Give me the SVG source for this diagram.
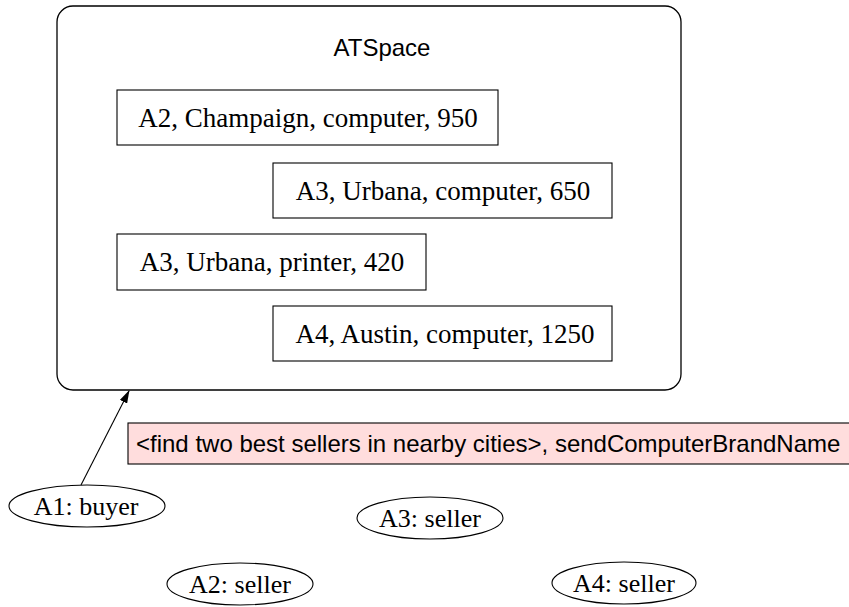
<svg xmlns="http://www.w3.org/2000/svg" width="849" height="607" viewBox="0 0 849 607">
  <style>
    .frame { fill: #ffffff; stroke: #000000; stroke-width: 1.3; }
    .tuple { fill: #ffffff; stroke: #000000; stroke-width: 1.1; }
    .agent { fill: #ffffff; stroke: #000000; stroke-width: 1.1; }
    .note { fill: #ffdddd; stroke: #000000; stroke-width: 1.1; }
    .serif { font-family: "Liberation Serif", "Times New Roman", serif; fill: #000000; }
    .tuple-text { font-size: 27px; }
    .agent-text { font-size: 26px; }
    .sans { font-family: "Liberation Sans", Arial, sans-serif; fill: #000000; }
    .link { fill: none; stroke: #000000; stroke-width: 1.1; }
  </style>
  <defs>
    <marker id="arrowhead" markerWidth="13" markerHeight="8" refX="12" refY="4" orient="auto" markerUnits="userSpaceOnUse">
      <path d="M0,0 L13,4 L0,8 Z" fill="#000000"/>
    </marker>
  </defs>
  <rect width="849" height="607" fill="#ffffff"/>

  <!-- tuple space container -->
  <g id="atspace">
    <rect class="frame" x="57" y="6" width="624" height="384" rx="16" ry="16"/>
    <text class="sans" x="382" y="56" font-size="24" text-anchor="middle">ATSpace</text>
  </g>

  <!-- stored tuples -->
  <g id="tuple-a2-champaign">
    <rect class="tuple" x="117" y="90" width="381" height="55"/>
    <text class="serif tuple-text" x="308" y="127" text-anchor="middle">A2, Champaign, computer, 950</text>
  </g>
  <g id="tuple-a3-urbana-computer">
    <rect class="tuple" x="273" y="163" width="339" height="55"/>
    <text class="serif tuple-text" x="443" y="200" text-anchor="middle">A3, Urbana, computer, 650</text>
  </g>
  <g id="tuple-a3-urbana-printer">
    <rect class="tuple" x="117" y="234" width="309" height="56"/>
    <text class="serif tuple-text" x="272" y="271" text-anchor="middle">A3, Urbana, printer, 420</text>
  </g>
  <g id="tuple-a4-austin">
    <rect class="tuple" x="273" y="306" width="339" height="55"/>
    <text class="serif tuple-text" x="445" y="343" text-anchor="middle">A4, Austin, computer, 1250</text>
  </g>

  <!-- request note -->
  <g id="request">
    <rect class="note" x="128" y="423" width="722" height="41"/>
    <text class="sans" x="136" y="452" font-size="24">&lt;find two best sellers in nearby cities&gt;, sendComputerBrandName</text>
  </g>

  <!-- agents -->
  <g id="a1-buyer">
    <ellipse class="agent" cx="87" cy="506" rx="78" ry="21"/>
    <text class="serif agent-text" x="86" y="515" text-anchor="middle">A1: buyer</text>
  </g>
  <g id="a3-seller">
    <ellipse class="agent" cx="430" cy="518" rx="73" ry="21"/>
    <text class="serif agent-text" x="430" y="527" text-anchor="middle">A3: seller</text>
  </g>
  <g id="a2-seller">
    <ellipse class="agent" cx="240" cy="584" rx="73" ry="21"/>
    <text class="serif agent-text" x="240" y="593" text-anchor="middle">A2: seller</text>
  </g>
  <g id="a4-seller">
    <ellipse class="agent" cx="624" cy="583" rx="72" ry="21"/>
    <text class="serif agent-text" x="624" y="592" text-anchor="middle">A4: seller</text>
  </g>

  <!-- connectors -->
  <g id="connectors">
    <line class="link" x1="81" y1="485" x2="129" y2="391" marker-end="url(#arrowhead)"/>
  </g>
</svg>
